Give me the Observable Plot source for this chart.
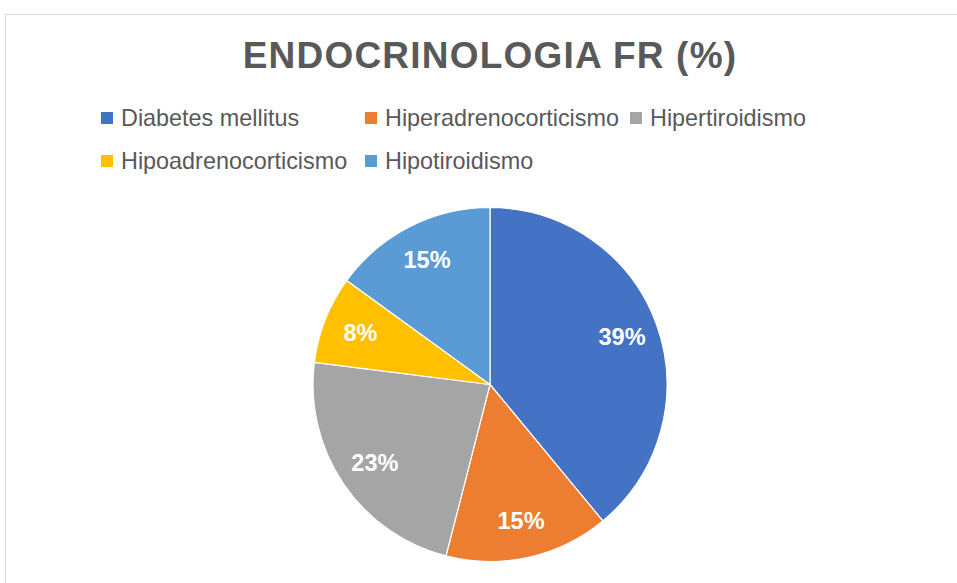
<!DOCTYPE html>
<html>
<head>
<meta charset="utf-8">
<script src="https://cdn.jsdelivr.net/npm/d3@7"></script>
<script src="https://cdn.jsdelivr.net/npm/@observablehq/plot@0.6"></script>
<style>
  html, body { margin: 0; padding: 0; background: #fff; overflow: hidden; }
  body { width: 957px; height: 583px; position: relative; font-family: "Liberation Sans", Arial, sans-serif; color: #595959; }
  #frame { position: absolute; left: 5px; top: 14px; width: 1000px; height: 700px; border-top: 1.5px solid #d9d9d9; border-left: 1.5px solid #d9d9d9; }
  #title { position: absolute; left: 0; width: 980px; top: 37px; text-align: center; font-size: 37px; line-height: 37px; font-weight: bold; letter-spacing: 1.2px; white-space: nowrap; }
  #legend { position: absolute; left: 101px; top: 107px; display: grid; grid-template-columns: 264px 265px auto; row-gap: 21px; font-size: 23.4px; line-height: 22px; }
  .item { display: flex; align-items: center; white-space: nowrap; }
  .sw { width: 12px; height: 12px; margin-right: 8px; flex: none; }
  #chart { position: absolute; left: 0; top: 190px; }
</style>
</head>
<body>
<div id="frame"></div>
<div id="title"></div>
<div id="legend"></div>
<div id="chart"></div>
<script>
const titleText = "ENDOCRINOLOGIA FR (%)";
const categories = ["Diabetes mellitus", "Hiperadrenocorticismo", "Hipertiroidismo", "Hipoadrenocorticismo", "Hipotiroidismo"];
const values = [39, 15, 23, 8, 15];
const colors = ["#4472C4", "#ED7D31", "#A5A5A5", "#FFC000", "#5B9BD5"];

document.getElementById("title").textContent = titleText;

const legend = document.getElementById("legend");
categories.forEach((c, i) => {
  const it = document.createElement("div");
  it.className = "item";
  const sw = document.createElement("span");
  sw.className = "sw";
  sw.style.background = colors[i];
  const t = document.createElement("span");
  t.textContent = c;
  it.appendChild(sw); it.appendChild(t);
  legend.appendChild(it);
});

const data = categories.map((c, i) => ({category: c, value: values[i]}));
const total = d3.sum(values);
const arcs = d3.pie().sort(null).value(d => d.value)(data);
const labelR = 0.79;
const labels = arcs.map(a => {
  const mid = (a.startAngle + a.endAngle) / 2;
  return {x: labelR * Math.sin(mid), y: labelR * Math.cos(mid), text: Math.round(a.data.value / total * 100) + "%"};
});

const pie = Plot.dot(data, {
  x: () => 0,
  y: () => 0,
  fill: "category",
  render(index, scales, vals) {
    const cx = scales.x(0), cy = scales.y(0);
    const r = Math.abs(scales.x(1) - scales.x(0));
    const arc = d3.arc().innerRadius(0).outerRadius(r);
    const g = d3.create("svg:g").attr("transform", `translate(${cx},${cy})`);
    g.selectAll("path").data(arcs).join("path")
      .attr("d", arc)
      .attr("fill", (d, i) => vals.fill[i])
      .attr("stroke", "#fff")
      .attr("stroke-width", 1.2)
      .attr("stroke-linejoin", "round");
    return g.node();
  }
});

const plot = Plot.plot({
  width: 957,
  height: 393,
  marginLeft: 313,
  marginRight: 290,
  marginTop: 17.5,
  marginBottom: 21.5,
  x: {domain: [-1, 1], axis: null},
  y: {domain: [-1, 1], axis: null},
  color: {domain: categories, range: colors},
  style: {fontFamily: "Liberation Sans, Arial, sans-serif", background: "transparent"},
  marks: [
    pie,
    Plot.text(labels, {x: "x", y: "y", text: "text", fill: "#fff", fontSize: 23.5, fontWeight: "bold"})
  ]
});
document.getElementById("chart").appendChild(plot);
</script>
</body>
</html>
